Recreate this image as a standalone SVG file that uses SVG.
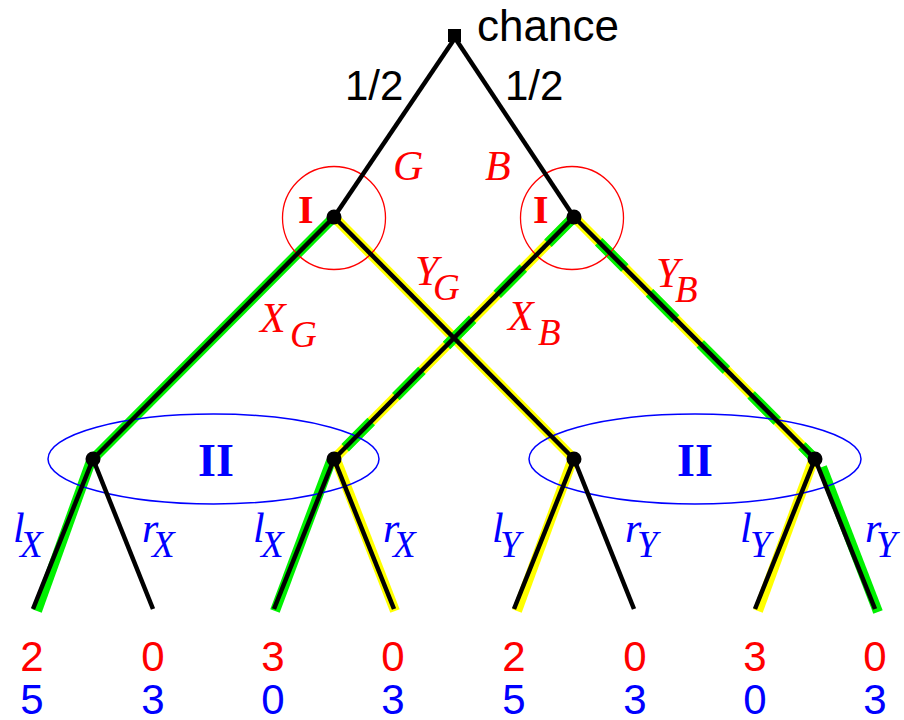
<svg xmlns="http://www.w3.org/2000/svg" width="904" height="720" viewBox="0 0 904 720">
<style>
.sans{font-family:"Liberation Sans",Arial,sans-serif;font-size:42px}
.it{font-family:"Liberation Serif","Times New Roman",serif;font-style:italic;font-size:42px}
.sub{font-size:37px}
.bold{font-family:"Liberation Serif","Times New Roman",serif;font-weight:bold}
.red{fill:#ff0000}
.blue{fill:#0000ff}
.edge{stroke:#000;stroke-width:4.5;fill:none}
.gr{stroke:#00f000;stroke-width:10;fill:none}
.ye{stroke:#ffff00;stroke-width:10;fill:none}
.dash{stroke:#00f000;stroke-width:10.5;fill:none;stroke-dasharray:37 35}
.info1{fill:none;stroke:#ff0000;stroke-width:1.3}
.info2{fill:none;stroke:#0000ff;stroke-width:1.5}
.dot{fill:#000}
</style>
<rect width="904" height="720" fill="#fff"/>
<g id="highlights">
<line class="gr" x1="334" y1="217" x2="93" y2="459"/>
<line class="ye" x1="334" y1="217" x2="574" y2="459"/>
<line class="ye" x1="574" y1="217" x2="334" y2="459"/>
<line class="dash" x1="574" y1="217" x2="334" y2="459"/>
<line class="ye" x1="574" y1="217" x2="815" y2="459"/>
<line class="dash" x1="574" y1="217" x2="815" y2="459" stroke-dashoffset="37"/>
<line class="gr" x1="91" y1="461" x2="37" y2="611"/>
<line class="gr" x1="331" y1="461" x2="275" y2="611"/>
<line class="ye" x1="337" y1="462" x2="395" y2="611"/>
<line class="ye" x1="572" y1="461" x2="517" y2="611"/>
<line class="ye" x1="813" y1="461" x2="758" y2="611"/>
<line class="gr" x1="822" y1="467" x2="878" y2="612" stroke-width="12"/>
</g>
<g id="infosets">
<circle class="info1" cx="334" cy="218" r="51.5"/>
<circle class="info1" cx="572" cy="218" r="51.5"/>
<ellipse class="info2" cx="213.5" cy="459" rx="165.5" ry="45"/>
<ellipse class="info2" cx="695" cy="459" rx="166" ry="45"/>
</g>
<g id="connectors">
<line class="edge" x1="455" y1="38" x2="334" y2="217"/>
<line class="edge" x1="455" y1="38" x2="574" y2="217"/>
<line class="edge" x1="334" y1="217" x2="93" y2="459"/>
<line class="edge" x1="334" y1="217" x2="574" y2="459"/>
<line class="edge" x1="574" y1="217" x2="334" y2="459"/>
<line class="edge" x1="574" y1="217" x2="815" y2="459"/>
<line class="edge" x1="93" y1="459" x2="33" y2="609"/>
<line class="edge" x1="93" y1="459" x2="153" y2="609"/>
<line class="edge" x1="334" y1="459" x2="274" y2="609"/>
<line class="edge" x1="334" y1="459" x2="394" y2="609"/>
<line class="edge" x1="574" y1="459" x2="514" y2="609"/>
<line class="edge" x1="574" y1="459" x2="634" y2="609"/>
<line class="edge" x1="815" y1="459" x2="755" y2="609"/>
<line class="edge" x1="815" y1="459" x2="875" y2="609"/>
</g>
<g id="chance">
<rect x="448" y="29" width="13" height="13" fill="#000"/>
<text class="sans" x="477" y="41" style="font-size:44px">chance</text>
</g>
<g id="probs">
<text class="sans" x="345" y="100">1/2</text>
<text class="sans" x="505" y="100">1/2</text>
<text class="it red" x="393" y="180">G</text>
<text class="it red" x="485" y="180">B</text>
</g>
<g id="I_G">
<circle class="dot" cx="334" cy="217" r="7.5"/>
<text class="bold red" x="298" y="223" font-size="40">I</text>
</g>
<g id="I_B">
<circle class="dot" cx="574" cy="217" r="7.5"/>
<text class="bold red" x="533" y="223" font-size="40">I</text>
</g>
<g id="action_labels">
<text class="it red" x="260" y="332">X<tspan class="sub" x="290" y="347">G</tspan></text>
<text class="it red" x="415" y="285">Y<tspan class="sub" x="433" y="300">G</tspan></text>
<text class="it red" x="508" y="330">X<tspan class="sub" x="538" y="345">B</tspan></text>
<text class="it red" x="656" y="287">Y<tspan class="sub" x="675" y="302">B</tspan></text>
</g>
<g id="II_left">
<circle class="dot" cx="93" cy="459" r="7.5"/>
<circle class="dot" cx="334" cy="459" r="7.5"/>
<text class="bold blue" x="198" y="476" font-size="46">II</text>
</g>
<g id="II_right">
<circle class="dot" cx="574" cy="459" r="7.5"/>
<circle class="dot" cx="815" cy="459" r="7.5"/>
<text class="bold blue" x="677" y="476" font-size="46">II</text>
</g>
<g id="leaf_labels">
<text class="it blue" x="13" y="542">l<tspan class="sub" x="20" y="557">X</tspan></text>
<text class="it blue" x="142" y="542">r<tspan class="sub" x="152" y="557">X</tspan></text>
<text class="it blue" x="253" y="542">l<tspan class="sub" x="261" y="557">X</tspan></text>
<text class="it blue" x="383" y="542">r<tspan class="sub" x="393" y="557">X</tspan></text>
<text class="it blue" x="492" y="542">l<tspan class="sub" x="500" y="557">Y</tspan></text>
<text class="it blue" x="625" y="542">r<tspan class="sub" x="637" y="557">Y</tspan></text>
<text class="it blue" x="740" y="542">l<tspan class="sub" x="750" y="557">Y</tspan></text>
<text class="it blue" x="865" y="542">r<tspan class="sub" x="876" y="557">Y</tspan></text>
</g>
<g id="payoffs" class="sans" text-anchor="middle">
<text class="red" x="32" y="671">2</text><text class="blue" x="32" y="714">5</text>
<text class="red" x="153" y="671">0</text><text class="blue" x="153" y="714">3</text>
<text class="red" x="273" y="671">3</text><text class="blue" x="273" y="714">0</text>
<text class="red" x="393" y="671">0</text><text class="blue" x="393" y="714">3</text>
<text class="red" x="514" y="671">2</text><text class="blue" x="514" y="714">5</text>
<text class="red" x="635" y="671">0</text><text class="blue" x="635" y="714">3</text>
<text class="red" x="755" y="671">3</text><text class="blue" x="755" y="714">0</text>
<text class="red" x="875" y="671">0</text><text class="blue" x="875" y="714">3</text>
</g>
</svg>
